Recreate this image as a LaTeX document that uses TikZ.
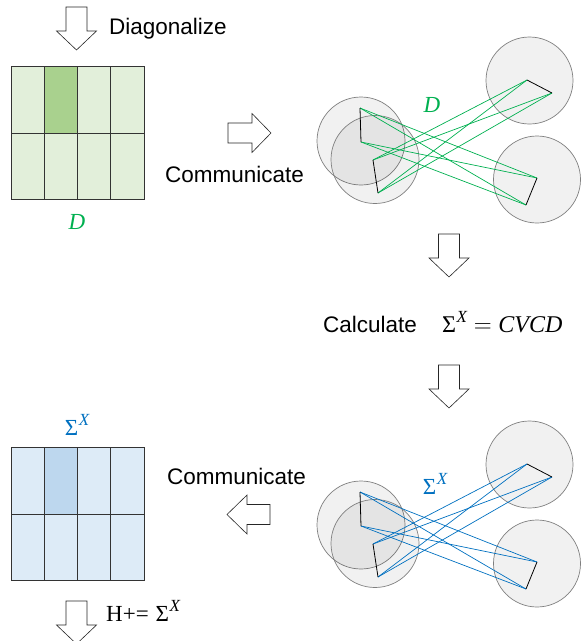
\documentclass[tikz,border=0pt]{standalone}
\usepackage{fontspec}
\setmainfont{Liberation Sans}
\newfontfamily\mathserif{Liberation Serif}
\definecolor{gfill}{HTML}{E2EFDA}
\definecolor{gdark}{HTML}{A9D18E}
\definecolor{bfill}{HTML}{DDEBF7}
\definecolor{bdark}{HTML}{BDD7EE}
\definecolor{glink}{HTML}{00B050}
\definecolor{blink}{HTML}{0070C0}
\definecolor{cborder}{HTML}{7F7F7F}
\newcommand\txtsize{\fontsize{22.5}{26}\selectfont}
\newcommand\mathsize{\fontsize{23}{26}\selectfont}
\newcommand\supX{\raisebox{0.42em}{\fontsize{17}{17}\selectfont\itshape X}}
\newcommand\SigX{{\mathserif Σ\kern0.5pt\supX}}
\tikzset{
  blockarrow/.style={draw=black!85,fill=white,line width=0.6pt,line join=miter},
  downarrow/.pic={\path[blockarrow] (-10.5,0)--(10.5,0)--(10.5,24)--(20,24)--(0,43)--(-20,24)--(-10.5,24)--cycle;},
  rightarrow/.pic={\path[blockarrow] (0,-10)--(24,-10)--(24,-19.5)--(43,0)--(24,19.5)--(24,10)--(0,10)--cycle;},
  leftarrow/.pic={\path[blockarrow] (0,-10)--(-23,-10)--(-23,-19.5)--(-43,0)--(-23,19.5)--(-23,10)--(0,10)--cycle;},
  txt/.style={inner sep=0pt,anchor=base west,font=\txtsize},
  mlabel/.style={inner sep=0pt,anchor=base,font=\mathsize\mathserif},
  mtxt/.style={inner sep=0pt,anchor=base west,font=\mathsize\mathserif},
  grid/.style={draw=black!80,line width=0.9pt},
  site/.style={draw=cborder,line width=0.7pt,fill=black,fill opacity=0.055},
  seg/.style={draw=black,line width=0.8pt},
  link/.style={line width=0.7pt}
}
\newcommand\matrixblock[3]{%
  \fill[#2] (11,#1) rectangle (144,#1+133);
  \fill[#3] (44.25,#1) rectangle (77.5,#1+67);
  \draw[grid] (11,#1) rectangle (144,#1+133);
  \draw[grid] (11,#1+67) -- (144,#1+67);
  \foreach \cx in {44.25,77.5,110.75} \draw[grid] (\cx,#1) -- (\cx,#1+133);
}
\newcommand\network[3]{%
  \begin{scope}[shift={(0,#2)}]
    \path[site] (361,141) circle[radius=44];
    \path[site] (375,159.5) circle[radius=44];
    \path[site] (529.5,80.5) circle[radius=43.5];
    \path[site] (537,179.5) circle[radius=43.5];
    \coordinate (#1a1) at (360,108);
    \coordinate (#1a2) at (361,142);
    \coordinate (#1b1) at (373,160);
    \coordinate (#1b2) at (378,193);
    \coordinate (#1c1) at (527,80);
    \coordinate (#1c2) at (552,93);
    \coordinate (#1d1) at (537,178);
    \coordinate (#1d2) at (526,205);
    \foreach \p in {a1,a2} \foreach \q in {d1,d2} \draw[link,#3] (#1\p) -- (#1\q);
    \foreach \p in {b1,b2} \foreach \q in {c1,c2} \draw[link,#3] (#1\p) -- (#1\q);
    \draw[seg] (#1a1) -- (#1a2);
    \draw[seg] (#1b1) -- (#1b2);
    \draw[seg] (#1c1) -- (#1c2);
    \draw[seg] (#1d1) -- (#1d2);
  \end{scope}
}
\begin{document}
\begin{tikzpicture}[x=1pt,y=-1pt]
\useasboundingbox (0,0) rectangle (581,641);
% top left
\pic (arrTop) at (76.5,7) {downarrow};
\node[txt] (diag) at (109,34) {Diagonalize};
\matrixblock{66}{gfill}{gdark}
\node[mlabel,text=glink] (dlab) at (77,229) {\itshape D};
% communicate right
\pic (arrRight) at (228,133) {rightarrow};
\node[txt] (comm1) at (165,182) {Communicate};
% top network
\network{n}{0}{glink}
\node[mlabel,text=glink] (dnet) at (432,112) {\itshape D};
% calculate
\pic (arrMid1) at (449,234) {downarrow};
\node[txt] (calc) at (323,332.5) {Calculate};
\node[mtxt,font=\fontsize{24}{27}\selectfont\mathserif] (formula) at (442,332.5) {\SigX\hspace{0.28em}$=$\hspace{0.28em}\itshape CVCD};
\pic (arrMid2) at (449,365) {downarrow};
% bottom network
\network{m}{384}{blink}
\node[mlabel,text=blink] (snet) at (435,494) {\SigX};
% communicate left
\node[txt] (comm2) at (167,484) {Communicate};
\pic (arrLeft) at (270,514.5) {leftarrow};
% bottom left
\node[mlabel,text=blink] (slab) at (77,435) {\SigX};
\matrixblock{447}{bfill}{bdark}
\pic (arrBot) at (76.5,601) {downarrow};
\node[mtxt] (hupd) at (106,621.5) {H+=\hspace{0.3em}\SigX};
\end{tikzpicture}
\end{document}
